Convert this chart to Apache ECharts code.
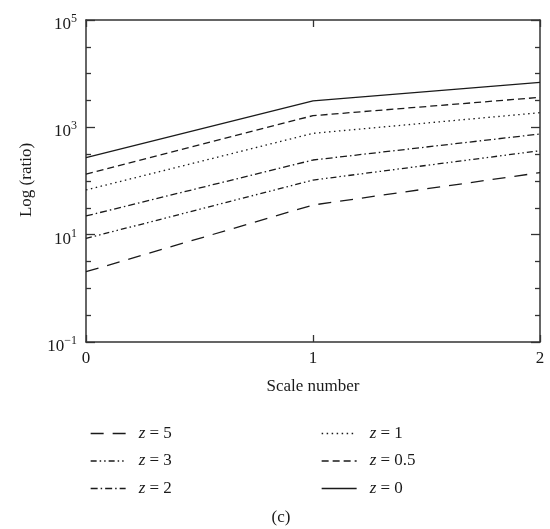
<!DOCTYPE html>
<html>
<head>
<meta charset="utf-8">
<script src="https://cdn.jsdelivr.net/npm/echarts@6/dist/echarts.min.js"></script>
<style>
html,body{margin:0;padding:0;background:#fff;}
#c{width:550px;height:529px;}
</style>
</head>
<body>
<div id="c"></div>
<script>
// ---- data ----
const scaleNumbers = [0, 1, 2];
const seriesNames = ['z = 5', 'z = 3', 'z = 2', 'z = 1', 'z = 0.5', 'z = 0'];
const z5  = [2.04, 35.7, 143];
const z3  = [8.5, 104, 367];
const z2  = [22.3, 246, 751];
const z1  = [68, 773, 1875];
const z05 = [135, 1650, 3620];
const z0  = [272, 3100, 6900];
const yTickExponents = [-1, 1, 3, 5];
const xTickLabels = ['0', '1', '2'];

const FONT = 'Liberation Serif';
const INK = '#1a1a1a';
const AX = '#333';

const valuesByName = {
  'z = 5': z5, 'z = 3': z3, 'z = 2': z2,
  'z = 1': z1, 'z = 0.5': z05, 'z = 0': z0
};
const dashes = {
  'z = 5': [13, 9],
  'z = 3': [6, 3, 1.5, 3, 1.5, 3],
  'z = 2': [7, 3, 1.5, 3],
  'z = 1': [1.5, 3.5],
  'z = 0.5': [7, 4],
  'z = 0': 'solid'
};

const series = seriesNames.map(n => ({
  name: n,
  type: 'line',
  xAxisIndex: 1,
  yAxisIndex: 2,
  symbol: 'none',
  silent: true,
  animation: false,
  lineStyle: { color: INK, width: 1.3, type: dashes[n] },
  itemStyle: { color: INK },
  data: scaleNumbers.map((x, i) => [x, valuesByName[n][i]])
}));

const gridRect = { left: 86, right: 10, top: 20, bottom: 187 };

const legendRich = {
  i: { fontFamily: FONT, fontSize: 17, fontStyle: 'italic', color: INK, padding: [0, 0, 0, 6] },
  t: { fontFamily: FONT, fontSize: 17, color: INK }
};
const legendFmt = name => '{i|z}{t| = ' + name.split('= ')[1] + '}';

function mkLegend(data, left) {
  return {
    data: data,
    orient: 'vertical',
    left: left,
    top: 420,
    itemWidth: 35,
    itemHeight: 14,
    itemGap: 10.5,
    selectedMode: false,
    itemStyle: { opacity: 0, borderWidth: 0 },
    lineStyle: { width: 1.3 },
    formatter: legendFmt,
    textStyle: { lineHeight: 14, rich: legendRich, padding: [0, 0, 0, 2] }
  };
}

const chart = echarts.init(document.getElementById('c'), null, { renderer: 'canvas' });
chart.setOption({
  animation: false,
  backgroundColor: '#fff',
  grid: [Object.assign({}, gridRect), Object.assign({}, gridRect)],
  xAxis: [
    {
      gridIndex: 0, type: 'value', position: 'bottom', min: 0, max: 2, interval: 1,
      axisLine: { show: true, onZero: false, lineStyle: { color: AX, width: 1.5 } },
      axisTick: { show: true, inside: true, length: 7, lineStyle: { color: AX, width: 1.3 } },
      axisLabel: { margin: 8, fontFamily: FONT, fontSize: 17, color: INK,
        formatter: v => xTickLabels[scaleNumbers.indexOf(v)] },
      splitLine: { show: false },
      name: 'Scale number', nameLocation: 'middle', nameGap: 36,
      nameTextStyle: { fontFamily: FONT, fontSize: 17, color: INK }
    },
    {
      gridIndex: 1, type: 'value', position: 'top', min: 0, max: 2, interval: 1,
      axisLine: { show: true, onZero: false, lineStyle: { color: AX, width: 1.5 } },
      axisTick: { show: true, inside: true, length: 7, lineStyle: { color: AX, width: 1.3 } },
      axisLabel: { show: false },
      splitLine: { show: false }
    }
  ],
  yAxis: [
    {
      gridIndex: 0, type: 'value', position: 'left', min: -1, max: 5, interval: 2,
      axisLine: { show: true, onZero: false, lineStyle: { color: AX, width: 1.5 } },
      axisTick: { show: true, inside: true, length: 9, lineStyle: { color: AX, width: 1.3 } },
      minorTick: { show: true, splitNumber: 4, length: 5, lineStyle: { color: AX, width: 1.3 } },
      splitLine: { show: false },
      axisLabel: {
        margin: 9,
        padding: [6, 0, 0, 0],
        formatter: v => yTickExponents.indexOf(v) >= 0
          ? '{b|10}{s|' + (v < 0 ? '\u2212' + (-v) : v) + '}' : '',
        rich: {
          b: { fontFamily: FONT, fontSize: 17, color: INK, verticalAlign: 'bottom', lineHeight: 20 },
          s: { fontFamily: FONT, fontSize: 12, color: INK, verticalAlign: 'top', lineHeight: 20 }
        }
      }
    },
    {
      gridIndex: 0, type: 'value', position: 'right', min: -1, max: 5, interval: 2,
      axisLine: { show: true, onZero: false, lineStyle: { color: AX, width: 1.5 } },
      axisTick: { show: true, inside: true, length: 9, lineStyle: { color: AX, width: 1.3 } },
      minorTick: { show: true, splitNumber: 4, length: 5, lineStyle: { color: AX, width: 1.3 } },
      splitLine: { show: false },
      axisLabel: { show: false }
    },
    {
      gridIndex: 1, type: 'log', logBase: 10, min: 0.1, max: 100000,
      show: false
    }
  ],
  legend: [
    mkLegend(['z = 5', 'z = 3', 'z = 2'], 85),
    mkLegend(['z = 1', 'z = 0.5', 'z = 0'], 316)
  ],
  graphic: [
    {
      type: 'text', x: 27, y: 180, rotation: Math.PI / 2,
      style: { text: 'Log (ratio)', fontFamily: FONT, fontSize: 17, fill: INK,
        align: 'center', verticalAlign: 'middle' }
    },
    {
      type: 'text', x: 281, y: 518,
      style: { text: '(c)', fontFamily: FONT, fontSize: 17, fill: INK,
        align: 'center', verticalAlign: 'middle' }
    }
  ],
  series: series
});
</script>
</body>
</html>
